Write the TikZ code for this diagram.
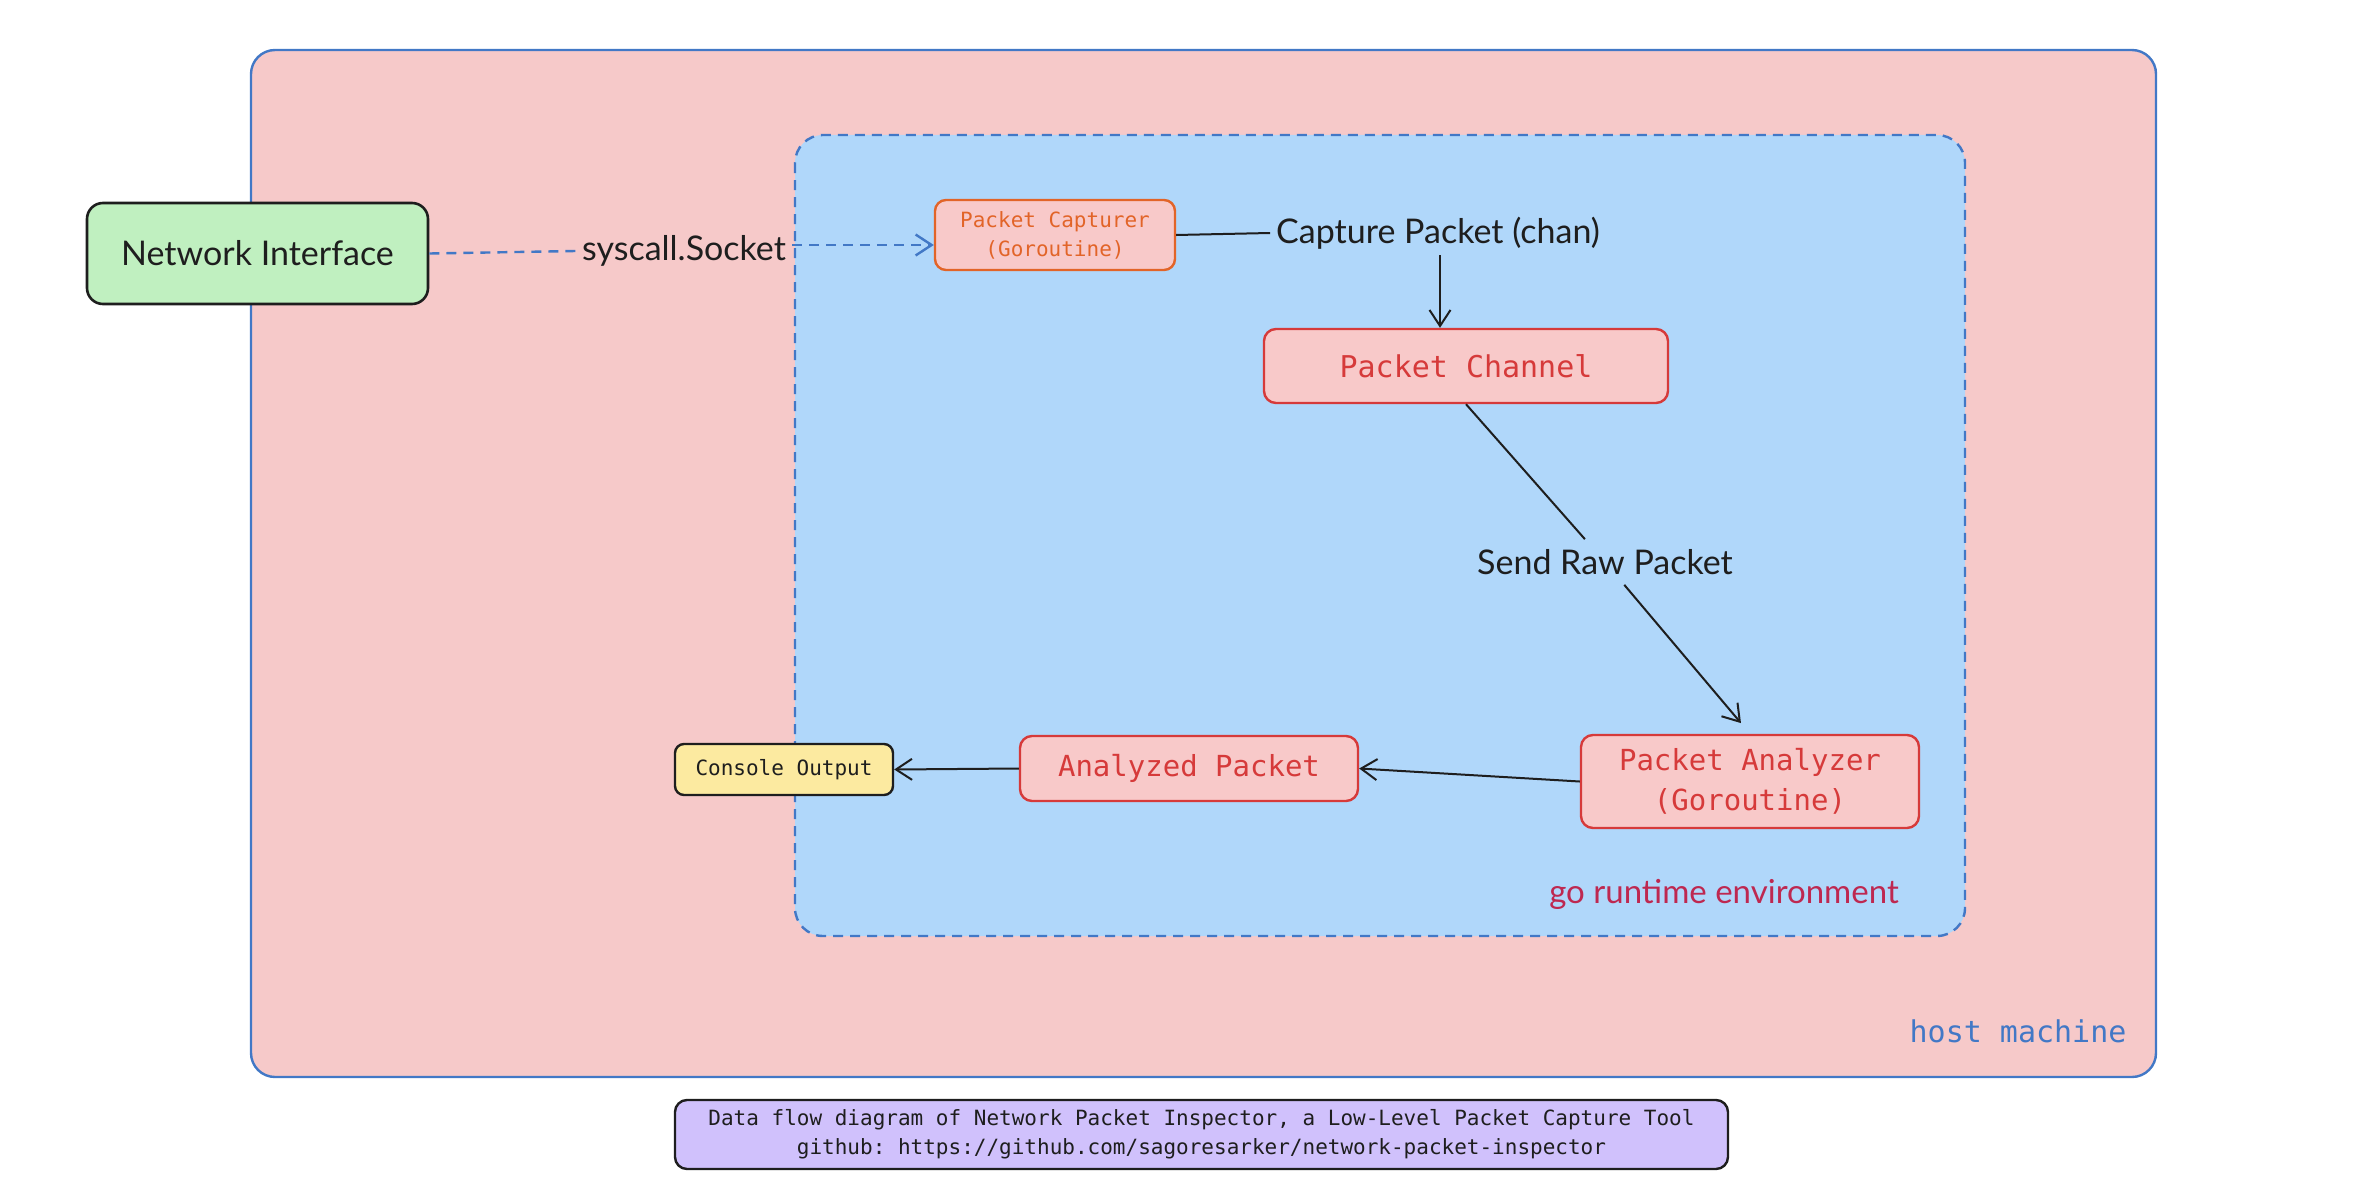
\documentclass[tikz,border=0pt]{standalone}
\usepackage{fontspec}
\setmainfont{Lato}
\setmonofont{DejaVu Sans Mono}
\usetikzlibrary{arrows.meta}
\definecolor{hostfill}{RGB}{246,201,201}
\definecolor{hostline}{RGB}{66,120,198}
\definecolor{gofill}{RGB}{176,215,250}
\definecolor{boxfill}{RGB}{248,201,201}
\definecolor{redline}{RGB}{214,58,58}
\definecolor{orangeline}{RGB}{226,100,40}
\definecolor{greenfill}{RGB}{192,240,192}
\definecolor{yellowfill}{RGB}{252,234,160}
\definecolor{lavender}{RGB}{208,193,252}
\definecolor{crimson}{RGB}{190,40,80}
\definecolor{ink}{RGB}{30,30,30}
\tikzset{
  px/.style={x=1pt,y=-1pt},
  redbox/.style={draw=redline, fill=boxfill, line width=2.4pt, rounded corners=12pt, text=redline, font=\ttfamily\fontsize{30pt}{36pt}\selectfont, align=center, inner sep=0pt},
  lbl/.style={font=\fontsize{34pt}{40pt}\selectfont, text=ink, inner sep=6pt},
  conn/.style={draw=ink, line width=2pt},
  tip/.style={-{Straight Barb[length=16pt,width=21pt,line width=2pt]}},
  dashblue/.style={hostline, line width=2.4pt, dash pattern=on 10pt off 7pt},
}
\begin{document}
\begin{tikzpicture}[px]
\useasboundingbox (0,0) rectangle (2356,1196);
% host machine
\draw[hostline, fill=hostfill, line width=2.4pt, rounded corners=24pt] (251,50) rectangle (2156,1077);
% go runtime
\draw[dashblue, fill=gofill, rounded corners=28pt] (795,135) rectangle (1965,936);
\node[text=crimson, font=\fontsize{33pt}{40pt}\selectfont] (goenv) at (1724,894) {go runtime environment};
\node[text=hostline, font=\ttfamily\fontsize{30pt}{36pt}\selectfont] (host) at (2018,1031) {host machine};

% nodes
\node[draw=ink, fill=greenfill, line width=2.6pt, rounded corners=16pt, minimum width=341, minimum height=101, inner sep=0pt, font=\fontsize{34pt}{40pt}\selectfont, text=ink] (ni) at (257.5,253.5) {Network Interface};
\node[draw=orangeline, fill=boxfill, line width=2.4pt, rounded corners=11pt, minimum width=240, minimum height=70, inner sep=0pt, text=orangeline, align=center, font=\ttfamily\fontsize{21pt}{29pt}\selectfont] (pc) at (1055,235) {Packet Capturer\\(Goroutine)};
\node[redbox, minimum width=404, minimum height=74] (ch) at (1466,366) {Packet Channel};
\node[redbox, minimum width=338, minimum height=93, font=\ttfamily\fontsize{29pt}{40pt}\selectfont] (pa) at (1750,781.5) {Packet Analyzer\\(Goroutine)};
\node[redbox, minimum width=338, minimum height=65, font=\ttfamily\fontsize{29pt}{36pt}\selectfont] (ap) at (1189,768.5) {Analyzed Packet};
\node[draw=ink, fill=yellowfill, line width=2.4pt, rounded corners=9pt, minimum width=218, minimum height=51, inner sep=0pt, text=ink, font=\ttfamily\fontsize{21pt}{24pt}\selectfont] (co) at (784,769.5) {Console Output};
\node[draw=ink, fill=lavender, line width=2.4pt, rounded corners=12pt, minimum width=1053, minimum height=69, inner sep=0pt, text=ink, align=center, font=\ttfamily\fontsize{21pt}{29pt}\selectfont] (cap) at (1201.5,1134.5) {Data flow diagram of Network Packet Inspector, a Low-Level Packet Capture Tool\\github: https://github.com/sagoresarker/network-packet-inspector};

% labels
\node[lbl] (sys) at (684,251) {syscall.Socket};
\node[lbl] (cpc) at (1438,233) {Capture Packet (chan)};
\node[lbl, inner sep=10pt] (srp) at (1605,562) {Send Raw Packet};
\coordinate (sysout) at ([yshift=6pt]sys.east);
\coordinate (pcin) at (pc.west |- sysout);

% connectors
\draw[dashblue] (ni.east) -- (sys.west);
\draw[dashblue, -{Straight Barb[length=16pt,width=21pt,line width=2.4pt]}] (sysout) -- (pcin);
\draw[conn] (pc.east) -- (cpc.west);
\draw[conn, tip] (cpc.south -| 1440,0) -- (1440,0 |- ch.north);
\draw[conn] (ch.south) -- (srp);
\draw[conn, tip, shorten >=14] (srp) -- (pa.north);
\draw[conn, tip] (pa.west) -- (ap.east);
\draw[conn, tip] (ap.west) -- (co.east);
\end{tikzpicture}
\end{document}
